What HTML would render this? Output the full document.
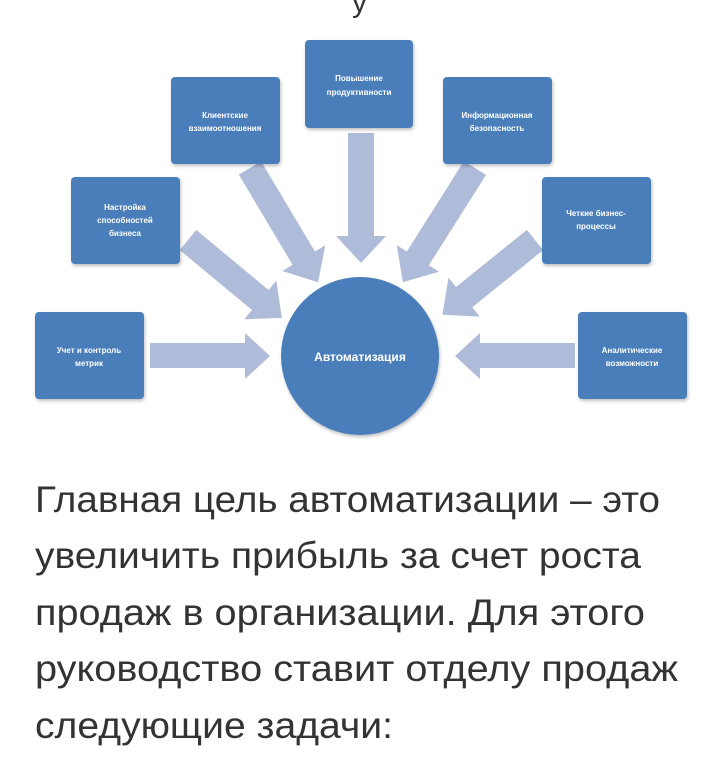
<!DOCTYPE html>
<html><head><meta charset="utf-8"><style>
html,body{margin:0;padding:0;background:#fff;width:720px;height:764px;overflow:hidden}
svg{display:block}
</style></head><body>
<svg width="720" height="764" viewBox="0 0 720 764" xmlns="http://www.w3.org/2000/svg">
<defs>
<filter id="sh" x="-10%" y="-10%" width="130%" height="130%"><feDropShadow dx="1" dy="2" stdDeviation="1.5" flood-color="#000" flood-opacity="0.25"/></filter>
</defs>
<text x="352" y="12" font-family="Liberation Sans, sans-serif" font-size="30" fill="#333">у</text>
<g fill="#aebbd9">
<polygon points="348,133 374,133 374,236 386,236 361,263 336,236 348,236"/>
<polygon points="150,343 245,343 245,333 270,356 245,379 245,368 150,368"/>
<polygon points="575,343 480,343 480,333 455,356 480,379 480,368 575,368"/>
<g transform="translate(250,168) rotate(59.2)"><polygon points="0,-13 105,-13 105,-25 133,0 105,25 105,13 0,13"/></g>
<g transform="translate(475,168) rotate(122.3)"><polygon points="0,-13 107,-13 107,-25 135,0 107,25 107,13 0,13"/></g>
<g transform="translate(188,240) rotate(39.7)"><polygon points="0,-13 94,-13 94,-25 122,0 94,25 94,13 0,13"/></g>
<g transform="translate(535,240) rotate(141.1)"><polygon points="0,-13 91,-13 91,-25 119,0 91,25 91,13 0,13"/></g>
</g>
<g fill="#4a7ebb" filter="url(#sh)">
<rect x="305" y="40" width="108" height="88" rx="4"/>
<rect x="171" y="77" width="109" height="87" rx="4"/>
<rect x="443" y="77" width="109" height="87" rx="4"/>
<rect x="71" y="177" width="109" height="87" rx="4"/>
<rect x="542" y="177" width="109" height="87" rx="4"/>
<rect x="35" y="312" width="109" height="87" rx="4"/>
<rect x="578" y="312" width="109" height="87" rx="4"/>
<ellipse cx="360" cy="356" rx="79" ry="79"/>
</g>
<g fill="#fff" font-family="Liberation Sans, sans-serif" font-size="8" font-weight="bold" text-anchor="middle">
<text x="359" y="81">Повышение</text><text x="359" y="95">продуктивности</text>
<text x="225" y="118">Клиентские</text><text x="225" y="131">взаимоотношения</text>
<text x="497" y="118">Информационная</text><text x="497" y="131">безопасность</text>
<text x="125" y="210">Настройка</text><text x="125" y="223">способностей</text><text x="125" y="236">бизнеса</text>
<text x="596" y="216">Четкие бизнес-</text><text x="596" y="229">процессы</text>
<text x="89" y="353">Учет и контроль</text><text x="89" y="366">метрик</text>
<text x="632" y="353">Аналитические</text><text x="632" y="366">возможности</text>
<text x="360" y="361" font-size="12">Автоматизация</text>
</g>
<g fill="#333" font-family="Liberation Sans, sans-serif" font-size="37">
<text x="35" y="512" textLength="625" lengthAdjust="spacingAndGlyphs">Главная цель автоматизации – это</text>
<text x="35" y="568" textLength="606" lengthAdjust="spacingAndGlyphs">увеличить прибыль за счет роста</text>
<text x="35" y="625" textLength="610" lengthAdjust="spacingAndGlyphs">продаж в организации. Для этого</text>
<text x="35" y="681" textLength="643" lengthAdjust="spacingAndGlyphs">руководство ставит отделу продаж</text>
<text x="35" y="738" textLength="358" lengthAdjust="spacingAndGlyphs">следующие задачи:</text>
</g>
</svg>
</body></html>
